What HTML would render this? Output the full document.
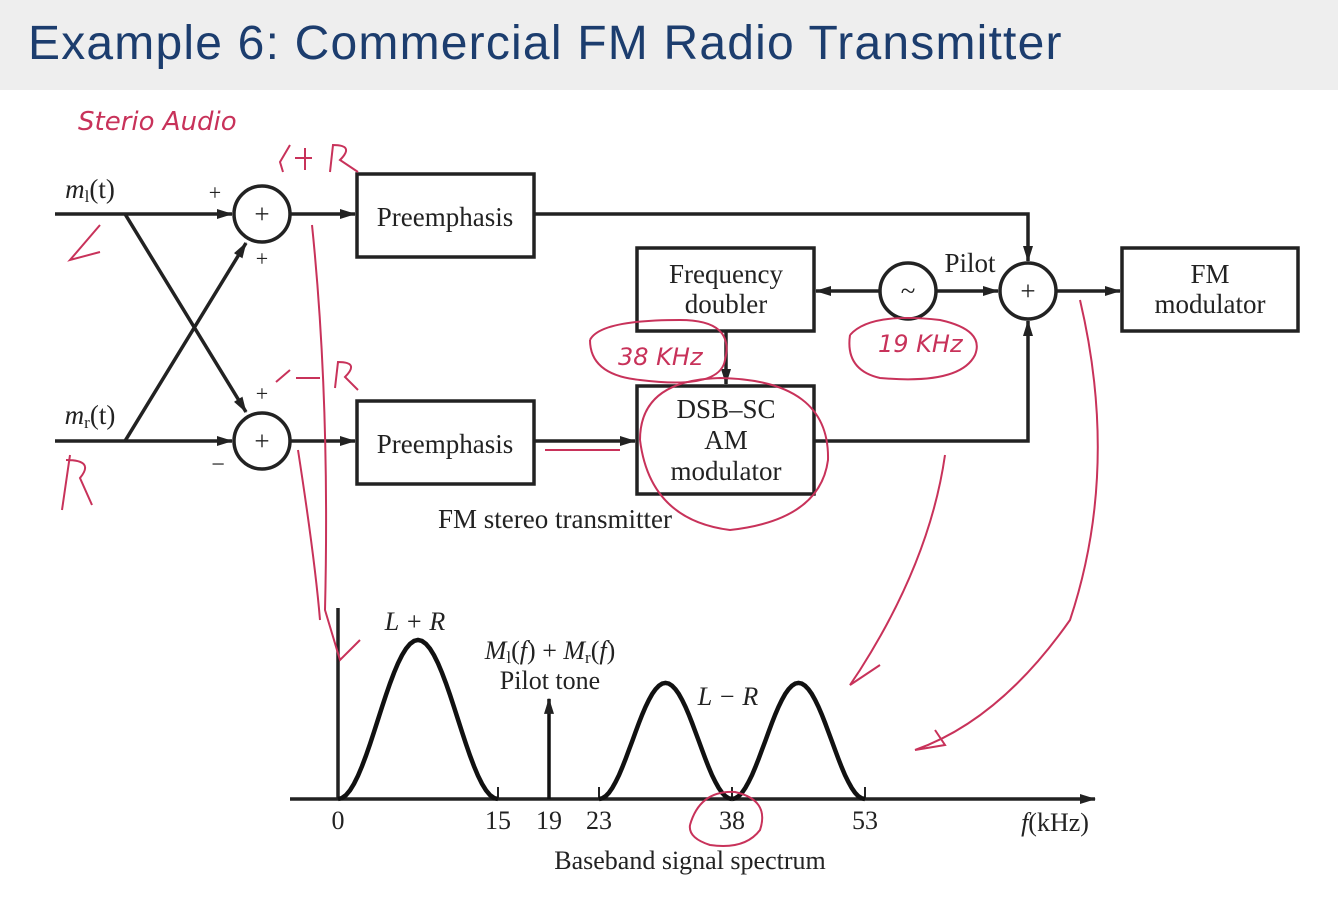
<!DOCTYPE html>
<html><head><meta charset="utf-8">
<style>
html,body{margin:0;padding:0;background:#fff;}
body{width:1338px;height:902px;overflow:hidden;position:relative;font-family:"Liberation Serif",serif;}
#hdr{position:absolute;left:0;top:0;width:1338px;height:90px;background:#eeeeee;}
#title{position:absolute;left:28px;top:16px;font-family:"Liberation Sans",sans-serif;font-size:48px;letter-spacing:1.2px;color:#1c3d6e;}
svg{position:absolute;left:0;top:0;}
</style></head><body>
<div id="hdr"></div>
<div id="title">Example 6: Commercial FM Radio Transmitter</div>
<svg id="s" width="1338" height="902">
<defs>
<marker id="ar" markerWidth="16" markerHeight="10" refX="15" refY="5" orient="auto" markerUnits="userSpaceOnUse"><path d="M0,0 L16,5 L0,10 z" fill="#222"/></marker>
</defs>
<g stroke="#222" stroke-width="3.5" fill="none">
<line x1="55" y1="214" x2="232" y2="214" marker-end="url(#ar)"/>
<line x1="55" y1="441" x2="232" y2="441" marker-end="url(#ar)"/>
<line x1="125" y1="214" x2="246" y2="412" marker-end="url(#ar)"/>
<line x1="125" y1="441" x2="246" y2="243" marker-end="url(#ar)"/>
<circle cx="262" cy="214" r="28" fill="#fff"/>
<circle cx="262" cy="441" r="28" fill="#fff"/>
<circle cx="908" cy="291" r="28" fill="#fff"/>
<circle cx="1028" cy="291" r="28" fill="#fff"/>
<line x1="290" y1="214" x2="355" y2="214" marker-end="url(#ar)"/>
<line x1="290" y1="441" x2="355" y2="441" marker-end="url(#ar)"/>
<rect x="357" y="174" width="177" height="83"/>
<rect x="357" y="401" width="177" height="83"/>
<rect x="637" y="248" width="177" height="83"/>
<rect x="637" y="386" width="177" height="108"/>
<rect x="1122" y="248" width="176" height="83"/>
<polyline points="534,214 1028,214 1028,261" marker-end="url(#ar)"/>
<line x1="534" y1="441" x2="635" y2="441" marker-end="url(#ar)"/>
<polyline points="814,441 1028,441 1028,321" marker-end="url(#ar)"/>
<line x1="936" y1="291" x2="998" y2="291" marker-end="url(#ar)"/>
<line x1="880" y1="291" x2="816" y2="291" marker-end="url(#ar)"/>
<line x1="726" y1="331" x2="726" y2="384" marker-end="url(#ar)"/>
<line x1="1056" y1="291" x2="1120" y2="291" marker-end="url(#ar)"/>
</g>
<g font-size="27" fill="#222" text-anchor="middle">
<text x="262" y="223">+</text><text x="262" y="450">+</text><text x="1028" y="300">+</text>
<text x="908" y="300">~</text>
<text x="215" y="200" font-size="22">+</text><text x="262" y="266" font-size="22">+</text>
<text x="262" y="401" font-size="22">+</text><text x="218" y="472" font-size="24">−</text>
<text x="970" y="272">Pilot</text>
<text x="445" y="226">Preemphasis</text><text x="445" y="453">Preemphasis</text>
<text x="726" y="283">Frequency</text><text x="726" y="313">doubler</text>
<text x="726" y="418">DSB–SC</text><text x="726" y="449">AM</text><text x="726" y="480">modulator</text>
<text x="1210" y="283">FM</text><text x="1210" y="313">modulator</text>
<text x="555" y="528">FM stereo transmitter</text>
<text x="90" y="198" font-style="italic">m<tspan font-size="17" dy="4" font-style="normal">l</tspan><tspan dy="-4" font-style="normal">(t)</tspan></text>
<text x="90" y="424" font-style="italic">m<tspan font-size="17" dy="4" font-style="normal">r</tspan><tspan dy="-4" font-style="normal">(t)</tspan></text>
</g>
<g id="spec"></g>
<g stroke="#c8325a" stroke-width="2" fill="none">
<path d="M100,225 L70,260 L100,252"/>
<path d="M70,455 L62,510 M66,460 Q95,460 80,478 L92,505"/>
<path d="M283,172 L280,162 L290,145 M295,158 L312,158 M305,148 L305,170 M330,172 L333,145 Q355,145 340,160 L358,172"/>
<path d="M276,382 L290,370 M296,378 L320,378 M335,388 L338,362 Q360,362 345,377 L358,390"/>
<path d="M312,225 Q330,400 325,610 L340,660 L360,640"/>
<path d="M298,450 Q315,560 320,620"/>
<path d="M945,455 Q930,560 860,670 L850,685 L880,665"/>
<path d="M1080,300 Q1120,470 1070,620 Q1000,720 915,750 L945,745 L935,730"/>
<path d="M590,340 Q600,320 680,320 Q735,320 725,360 Q720,390 640,380 Q590,375 590,340"/>
<path d="M850,335 Q870,312 940,320 Q985,330 975,355 Q960,385 880,378 Q845,370 850,335"/>
<path d="M640,440 Q640,380 720,378 Q830,380 828,460 Q820,520 730,530 Q650,520 640,440"/>
<path d="M690,825 Q700,790 735,792 Q770,800 760,830 Q745,850 710,845 Q688,838 690,825"/>
<path d="M545,450 L620,450"/>
</g>
<g fill="#c8325a" font-family="'DejaVu Sans',sans-serif" font-style="italic">
<text x="78" y="130" font-size="26">Sterio Audio</text>
<text x="618" y="365" font-size="24">38 KHz</text>
<text x="878" y="352" font-size="24">19 KHz</text>
</g>
</svg>
<script>
const tickValues=[0,15,19,23,38,53];
const tickLabels=["0","15","19","23","38","53"];
const bumpStarts=[0,23,38];
const bumpEnds=[15,38,53];
const bumpHeights=[1.0,0.73,0.73];
const pilotFreq=[19];
const pilotHeight=[0.63];

const baseY=799, topY=640, fullH=baseY-topY;
function xScale(f){
  const d=[0,15,19,23,53], r=[338,498,549,599,865];
  if(f<=d[0])return r[0];
  for(let i=1;i<d.length;i++){ if(f<=d[i]) return r[i-1]+(f-d[i-1])/(d[i]-d[i-1])*(r[i]-r[i-1]); }
  return r[r.length-1]+(f-53)*(266/30);
}
function yScale(h){return baseY-h*fullH;}
const NS="http://www.w3.org/2000/svg";
const g=document.getElementById('spec');
function mk(t,a){const e=document.createElementNS(NS,t);for(const k in a)e.setAttribute(k,a[k]);g.appendChild(e);return e;}
let ax=mk('line',{x1:290,y1:baseY,x2:1095,y2:baseY,stroke:'#222','stroke-width':3.5,'marker-end':'url(#ar)'});


let ay=mk('line',{x1:xScale(0),y1:baseY,x2:xScale(0),y2:608,stroke:'#222','stroke-width':3.5});


for(let i=0;i<tickValues.length;i++){
  const x=xScale(tickValues[i]);
  let t=mk('line',{x1:x,y1:baseY,x2:x,y2:baseY-12,stroke:'#222','stroke-width':2});
  
  
  let l=mk('text',{x:x,y:829,'font-size':26,'text-anchor':'middle',fill:'#222'});
  l.textContent=tickLabels[i];
  
  
}
for(let i=0;i<bumpStarts.length;i++){
  const a=bumpStarts[i],b=bumpEnds[i];let d='';
  for(let k=0;k<=40;k++){const f=a+(b-a)*k/40;const h=bumpHeights[i]*(1-Math.cos(2*Math.PI*k/40))/2;
    d+=(k?'L':'M')+xScale(f).toFixed(1)+','+yScale(h).toFixed(1);}
  let p=mk('path',{d:d,fill:'none',stroke:'#111','stroke-width':4.5});
  
  
}
for(let i=0;i<pilotFreq.length;i++){
  const x=xScale(pilotFreq[i]);
  let p=mk('line',{x1:x,y1:baseY,x2:x,y2:yScale(pilotHeight[i]),stroke:'#111','stroke-width':3.5,'marker-end':'url(#ar)'});
  
  
}
const labs=[["L + R",415,630,true],["Pilot tone",550,689,false],["L − R",728,705,true],["Baseband signal spectrum",690,869,false]];
for(const L of labs){let t=mk('text',{x:L[1],y:L[2],'font-size':26,'text-anchor':'middle',fill:'#222','font-style':L[3]?'italic':'normal'});t.textContent=L[0];
  
  }
let fk=mk('text',{x:1055,y:831,'font-size':26,'text-anchor':'middle',fill:'#222'});
fk.innerHTML='<tspan font-style="italic">f</tspan>(kHz)';


let m=mk('text',{x:550,y:659,'font-size':26,'text-anchor':'middle',fill:'#222'});
m.innerHTML='<tspan font-style="italic">M</tspan><tspan font-size="17" dy="4">l</tspan><tspan dy="-4">(</tspan><tspan font-style="italic">f</tspan>) + <tspan font-style="italic">M</tspan><tspan font-size="17" dy="4">r</tspan><tspan dy="-4">(</tspan><tspan font-style="italic">f</tspan>)';


</script>
</body></html>
